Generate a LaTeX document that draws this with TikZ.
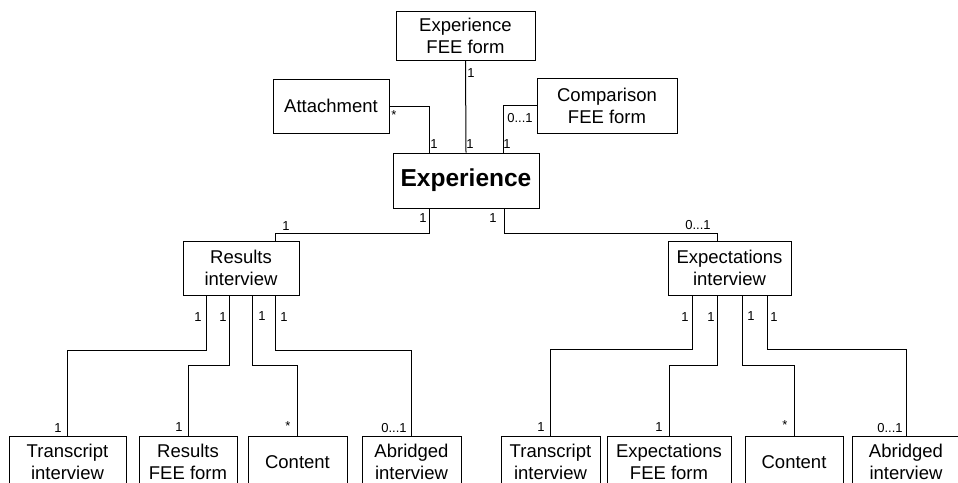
\documentclass[tikz,border=0pt]{standalone}
\usepackage{fontspec}
\setmainfont{Liberation Sans}
\begin{document}
\begin{tikzpicture}[x=1pt,y=-1pt,
  box/.style={draw,line width=1pt,align=center,inner sep=0pt,font=\fontsize{18.5}{22}\selectfont},
  lbl/.style={inner sep=0pt,font=\fontsize{13}{15}\selectfont},
  conn/.style={line width=1pt}]
\useasboundingbox (0,0) rectangle (958,482);
\begin{scope}
\clip (0,0) rectangle (958,482);
% top level
\node[box,minimum width=139pt,minimum height=49pt] (efee) at (465.5,35.5) {Experience\\FEE form};
\node[box,minimum width=116pt,minimum height=54pt] (att) at (331,106) {Attachment};
\node[box,minimum width=140pt,minimum height=55pt] (cmp) at (607,105.5) {Comparison\\FEE form};
\node[box,minimum width=146pt,minimum height=55pt,font=\fontsize{24.5}{28}\selectfont\bfseries] (exp) at (466,180.5) {Experience};
% interviews
\node[box,minimum width=116pt,minimum height=54pt] (ri) at (241,268) {Results\\interview};
\node[box,minimum width=123pt,minimum height=54pt] (ei) at (729.5,268) {Expectations\\interview};
% leaves
\node[box,minimum width=117pt,minimum height=52pt] (rt) at (67.5,462) {Transcript\\interview};
\node[box,minimum width=98pt,minimum height=52pt] (rf) at (188,462) {Results\\FEE form};
\node[box,minimum width=99pt,minimum height=52pt] (rc) at (297.5,462) {Content};
\node[box,minimum width=99pt,minimum height=52pt] (ra) at (411.5,462) {Abridged\\interview};
\node[box,minimum width=99pt,minimum height=52pt] (et) at (550.5,462) {Transcript\\interview};
\node[box,minimum width=124pt,minimum height=52pt] (ef) at (669,462) {Expectations\\FEE form};
\node[box,minimum width=98pt,minimum height=52pt] (ec) at (794,462) {Content};
\node[box,minimum width=108pt,minimum height=52pt] (ea) at (906,462) {Abridged\\interview};
% connectors
\draw[conn] (efee.south) -- (exp.north);
\draw[conn] (att.east) -| ([xshift=-37pt]exp.north);
\draw[conn] (cmp.west) -| ([xshift=37pt]exp.north);
\draw[conn] ([xshift=-37pt]exp.south) -- ++(0,25) -| ([xshift=34pt]ri.north);
\draw[conn] ([xshift=38pt]exp.south) -- ++(0,25) -| ([xshift=-12.5pt]ei.north);
\draw[conn] ([xshift=-35pt]ri.south) -- ++(0,55) -| (rt.north);
\draw[conn] ([xshift=-12pt]ri.south) -- ++(0,70) -| (rf.north);
\draw[conn] ([xshift=11pt]ri.south) -- ++(0,70) -| (rc.north);
\draw[conn] ([xshift=34pt]ri.south) -- ++(0,55) -| (ra.north);
\draw[conn] ([xshift=-37.5pt]ei.south) -- ++(0,54) -| (et.north);
\draw[conn] ([xshift=-12.5pt]ei.south) -- ++(0,70) -| (ef.north);
\draw[conn] ([xshift=12.5pt]ei.south) -- ++(0,70) -| (ec.north);
\draw[conn] ([xshift=37.5pt]ei.south) -- ++(0,54) -| (ea.north);
% labels top
\node[lbl] (l1) at (394,115) {*};
\node[lbl] (l2) at (434,144) {1};
\node[lbl] (l3) at (471,73) {1};
\node[lbl] (l4) at (470,144) {1};
\node[lbl] (l5) at (520,118) {0...1};
\node[lbl] (l6) at (507,144) {1};
\node[lbl] (l7) at (423,218) {1};
\node[lbl] (l8) at (493,218) {1};
\node[lbl] (l9) at (286,226) {1};
\node[lbl] (l10) at (698,225) {0...1};
% results children labels
\node[lbl] (r1) at (198,317) {1};
\node[lbl] (r2) at (223,317) {1};
\node[lbl] (r3) at (262,316) {1};
\node[lbl] (r4) at (284,317) {1};
\node[lbl] (r5) at (58,428) {1};
\node[lbl] (r6) at (179,427) {1};
\node[lbl] (r7) at (288,426) {*};
\node[lbl] (r8) at (394,428) {0...1};
% expectations children labels
\node[lbl] (e1) at (685,317) {1};
\node[lbl] (e2) at (711,317) {1};
\node[lbl] (e3) at (751,316) {1};
\node[lbl] (e4) at (774,317) {1};
\node[lbl] (e5) at (541,427) {1};
\node[lbl] (e6) at (659,427) {1};
\node[lbl] (e7) at (785,425) {*};
\node[lbl] (e8) at (890,428) {0...1};
\end{scope}
\end{tikzpicture}
\end{document}
